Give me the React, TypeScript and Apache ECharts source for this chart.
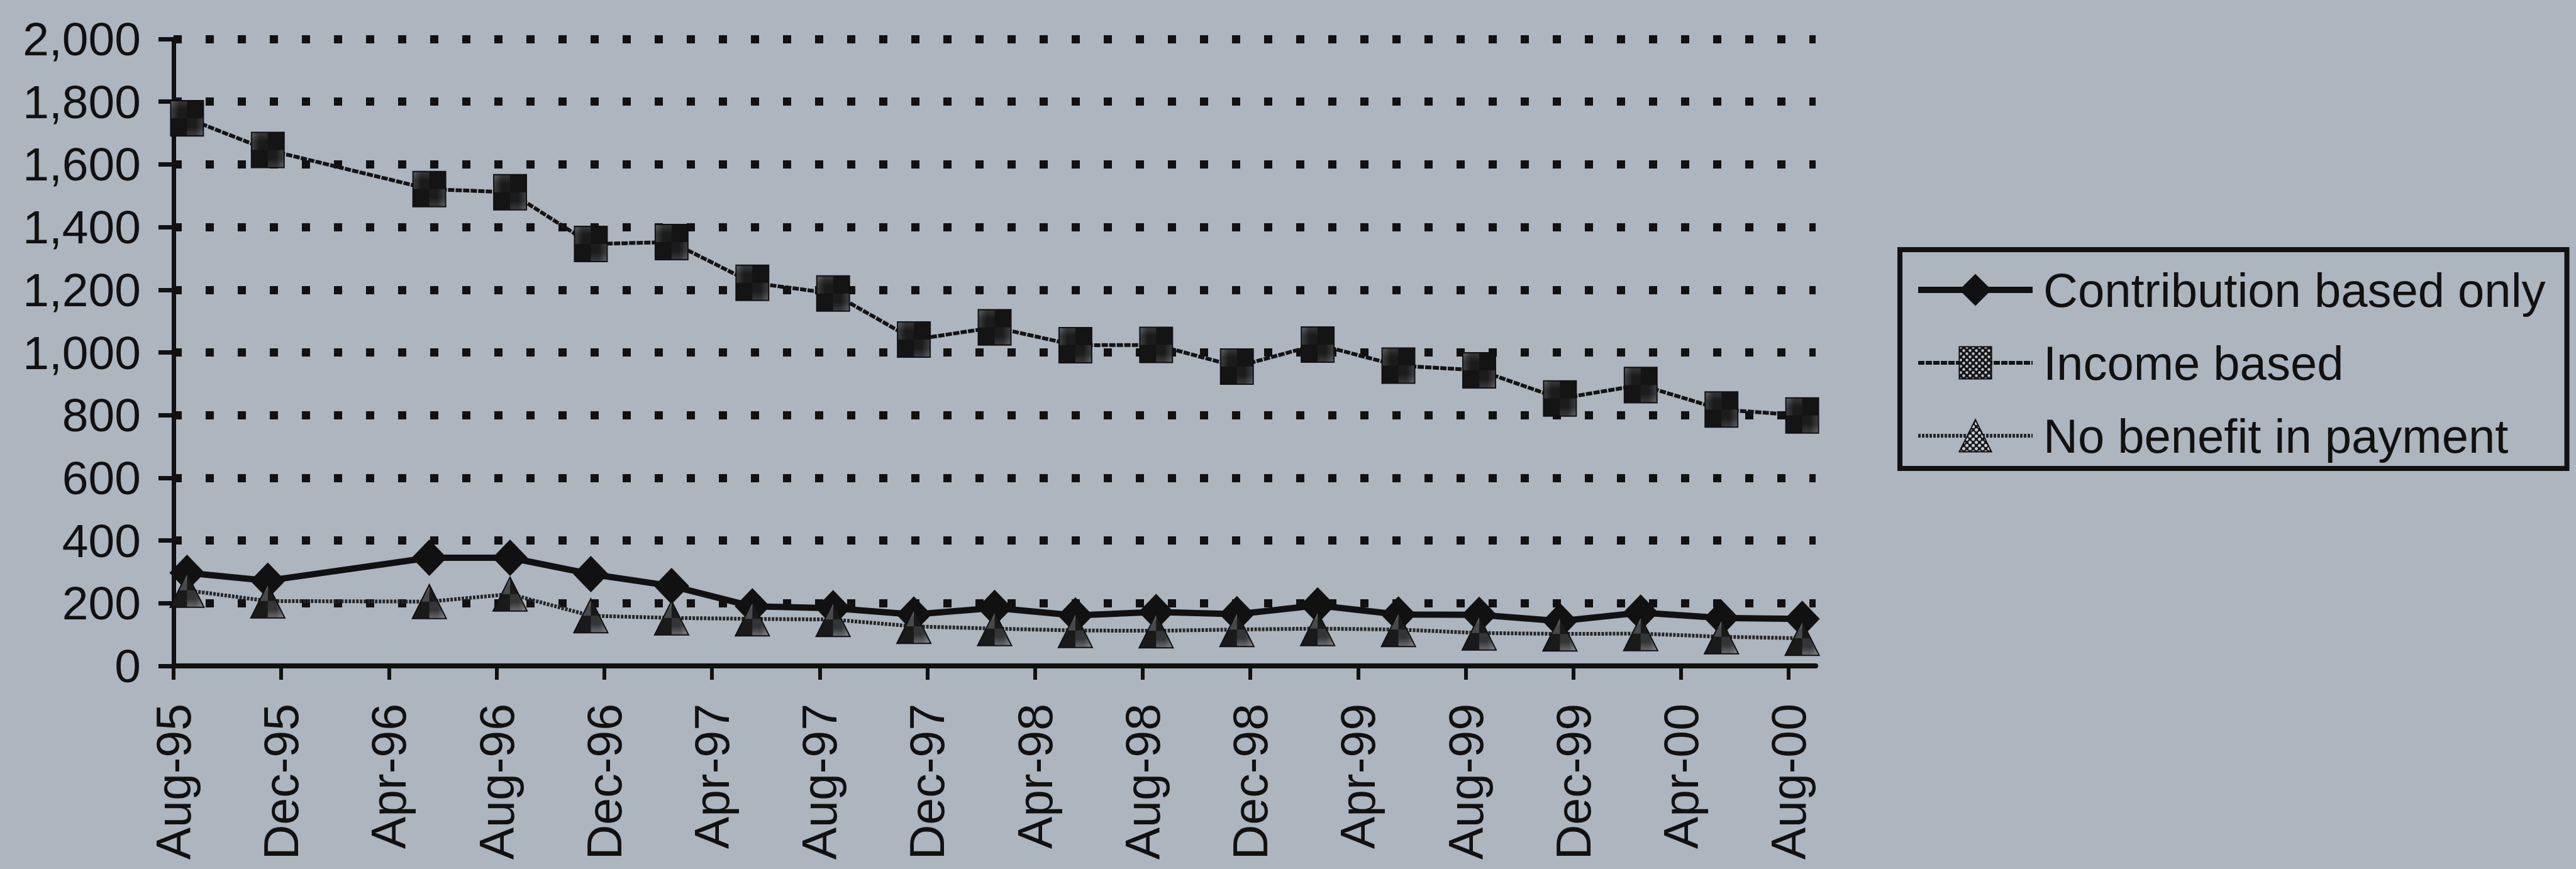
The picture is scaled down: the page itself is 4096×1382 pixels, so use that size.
import React, { useEffect, useRef } from "react";
import * as echarts from "echarts";

// ---- Data ----
const xTickLabels = [
  "Aug-95", "Dec-95", "Apr-96", "Aug-96", "Dec-96", "Apr-97", "Aug-97", "Dec-97",
  "Apr-98", "Aug-98", "Dec-98", "Apr-99", "Aug-99", "Dec-99", "Apr-00", "Aug-00",
];
const dataMonths = [
  "Aug-95", "Nov-95", "May-96", "Aug-96", "Nov-96", "Feb-97", "May-97", "Aug-97",
  "Nov-97", "Feb-98", "May-98", "Aug-98", "Nov-98", "Feb-99", "May-99", "Aug-99",
  "Nov-99", "Feb-00", "May-00", "Aug-00",
];
const contributionBasedOnly = [
  297, 272, 345, 345, 293, 255, 190, 184, 164, 185, 161, 172, 165, 193, 164, 163, 143, 170, 153, 150,
];
const incomeBased = [
  1747, 1646, 1521, 1511, 1346, 1352, 1222, 1188, 1041, 1080, 1023, 1024, 955, 1025, 958, 943, 853, 896, 818, 799,
];
const noBenefitInPayment = [
  241, 207, 205, 229, 160, 153, 150, 148, 126, 119, 113, 112, 116, 119, 116, 105, 102, 103, 93, 88,
];
const seriesNames = ["Contribution based only", "Income based", "No benefit in payment"];
const yMin = 0;
const yMax = 2000;
const yStep = 200;

// ---- helpers ----
const MONTHS = ["Jan", "Feb", "Mar", "Apr", "May", "Jun", "Jul", "Aug", "Sep", "Oct", "Nov", "Dec"];
function monthNumber(label: string): number {
  const [m, y] = label.split("-");
  const yy = Number(y);
  const year = yy < 50 ? 2000 + yy : 1900 + yy;
  return year * 12 + MONTHS.indexOf(m);
}
const originMonth = monthNumber(xTickLabels[0]);
const monthIndex = (label: string) => monthNumber(label) - originMonth;
const xTickValues = xTickLabels.map(monthIndex);
const xMax = monthIndex(xTickLabels[xTickLabels.length - 1]) + 1;

function makeHatch(dark: string, light: string, size: number, r: number) {
  const c = document.createElement("canvas");
  c.width = size;
  c.height = size;
  const ctx = c.getContext("2d")!;
  ctx.fillStyle = dark;
  ctx.fillRect(0, 0, size, size);
  ctx.fillStyle = light;
  const h = size / 4;
  const pts = [
    [h, h],
    [3 * h, 3 * h],
  ];
  for (const [x, y] of pts) {
    ctx.beginPath();
    ctx.arc(x, y, r, 0, Math.PI * 2);
    ctx.fill();
  }
  return { image: c, repeat: "repeat", imageWidth: size, imageHeight: size } as any;
}

const FONT = "'Liberation Sans', Arial, Helvetica, sans-serif";
const INK = "#111111";
const BG = "#adb5bf";

export default function App() {
  const ref = useRef<HTMLDivElement>(null);

  useEffect(() => {
    if (!ref.current) return;
    const chart = echarts.init(ref.current, undefined, { renderer: "svg" });

    const toPoints = (vals: number[]) =>
      vals.map((v, i) => [monthIndex(dataMonths[i]) + 0.5, v]);

    const hatchSquare = makeHatch("#141414", "#bcc3cb", 10, 2.2);
    const hatchTri = makeHatch("#1a1a1a", "#c6ccd3", 10, 2.5);

    const option: any = {
      animation: false,
      backgroundColor: BG,
      textStyle: { fontFamily: FONT },
      grid: { left: 276, top: 62, width: 2611, height: 997, containLabel: false },
      legend: {
        orient: "vertical",
        left: 3021,
        top: 397,
        padding: [26, 34, 14, 24],
        itemWidth: 182,
        itemHeight: 64,
        itemGap: 40,
        borderColor: INK,
        borderWidth: 8,
        backgroundColor: "transparent",
        selectedMode: false,
        lineStyle: { width: "inherit" },
        textStyle: { fontSize: 76, fontFamily: FONT, color: INK, padding: [0, 0, 0, 12] },
        data: seriesNames,
      },
      xAxis: {
        type: "value",
        min: 0,
        max: xMax,
        axisLine: { show: true, onZero: true, lineStyle: { color: INK, width: 8 } },
        axisTick: {
          show: true,
          customValues: xTickValues,
          length: 22,
          lineStyle: { color: INK, width: 6 },
        },
        axisLabel: {
          show: true,
          customValues: xTickValues,
          rotate: 90,
          margin: 60,
          fontSize: 77,
          fontFamily: FONT,
          color: INK,
          formatter: (v: number) => {
            const i = xTickValues.indexOf(v);
            return i >= 0 ? xTickLabels[i] : "";
          },
        },
        splitLine: { show: false },
      },
      yAxis: {
        type: "value",
        min: yMin,
        max: yMax,
        interval: yStep,
        axisLine: { show: true, lineStyle: { color: INK, width: 7 } },
        axisTick: { show: true, length: 24, lineStyle: { color: INK, width: 7 } },
        axisLabel: {
          margin: 52,
          fontSize: 75,
          fontFamily: FONT,
          color: INK,
          formatter: (v: number) => v.toLocaleString("en-US"),
        },
        splitLine: {
          show: true,
          showMinLine: false,
          lineStyle: { color: INK, width: 13, type: [13, 38] },
        },
      },
      series: [
        {
          name: seriesNames[0],
          type: "line",
          data: toPoints(contributionBasedOnly),
          symbol: "diamond",
          symbolSize: [56, 58],
          lineStyle: { color: INK, width: 10 },
          itemStyle: { color: INK },
        },
        {
          name: seriesNames[1],
          type: "line",
          data: toPoints(incomeBased),
          symbol: "rect",
          symbolSize: [52, 56],
          lineStyle: { color: "#141414", width: 6, type: [10, 2] },
          itemStyle: { color: hatchSquare, borderColor: INK, borderWidth: 2 },
        },
        {
          name: seriesNames[2],
          type: "line",
          data: toPoints(noBenefitInPayment),
          symbol: "triangle",
          symbolSize: [54, 54],
          lineStyle: { color: "#262626", width: 6, type: [4, 2] },
          itemStyle: { color: hatchTri, borderColor: INK, borderWidth: 2 },
        },
      ],
    };

    chart.setOption(option);
    return () => chart.dispose();
  }, []);

  return (
    <div
      ref={ref}
      style={{ position: "absolute", left: 0, top: 0, width: 4096, height: 1382 }}
    />
  );
}
